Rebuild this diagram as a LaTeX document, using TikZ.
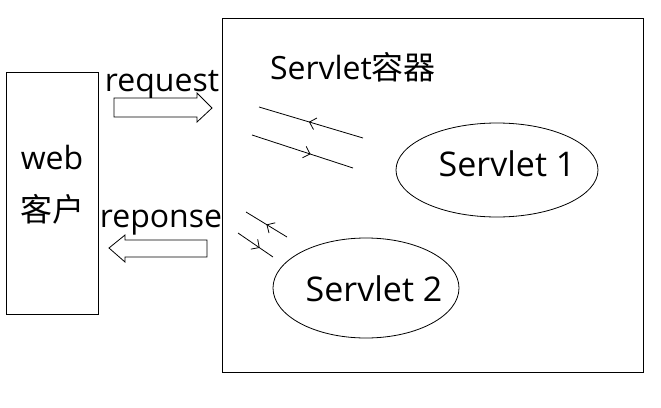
\documentclass[tikz,border=0pt]{standalone}
\usepackage{fontspec}
\setmainfont{Open Sans}
\newfontfamily\cjk{Noto Sans CJK SC}
\usetikzlibrary{arrows.meta,decorations.markings,shapes.geometric}
\tikzset{
  box/.style={draw=black,line width=1pt},
  lbl/.style={inner sep=0pt,anchor=base,font=\fontsize{32}{34}\selectfont},
  flow/.style={draw=black,line width=0.8pt,postaction={decorate},
    decoration={markings,mark=at position #1 with {\arrow{Straight Barb[length=6pt,width=12pt]}}}},
  backflow/.style={draw=black,line width=0.8pt,postaction={decorate},
    decoration={markings,mark=at position #1 with {\arrowreversed{Straight Barb[length=6pt,width=12pt]}}}},
  blockarrow/.style={draw=black,line width=0.8pt,fill=white},
  oval/.style={draw=black,line width=0.8pt,ellipse}
}
\begin{document}
\begin{tikzpicture}[x=1pt,y=-1pt]
\useasboundingbox (0,0) rectangle (661,407);
% client box
\node[box,minimum width=92pt,minimum height=242pt,inner sep=0pt] (client) at (52,193) {};
\node[lbl] (web) at (52,169) {web};
\node[lbl] (kehu) at (52,221) {\cjk 客户};
% container
\node[box,minimum width=421pt,minimum height=354pt,inner sep=0pt] (cont) at (432.5,195) {};
\node[lbl] (conttitle) at (353,79) {Servlet\cjk 容器};
% request arrow
\node[lbl] (req) at (162,91) {request};
\draw[blockarrow] (114,98) -- (197,98) -- (197,93) -- (212,108) -- (197,122) -- (197,117) -- (114,117) -- cycle;
% response arrow
\node[lbl] (resp) at (161,227) {reponse};
\draw[blockarrow] (207,240) -- (125,240) -- (125,235) -- (109,248) -- (125,262) -- (125,257) -- (207,257) -- cycle;
% servlets
\node[oval,minimum width=202pt,minimum height=94pt] (s1) at (497,170) {};
\node[lbl,font=\fontsize{34}{36}\selectfont] (s1t) at (507,176) {Servlet 1};
\node[oval,minimum width=186pt,minimum height=100pt] (s2) at (366,288) {};
\node[lbl,font=\fontsize{34}{36}\selectfont] (s2t) at (374,301) {Servlet 2};
% flow lines
\coordinate (a1) at (259,107); \coordinate (a2) at (363,138);
\coordinate (b1) at (252,135); \coordinate (b2) at (353,168);
\coordinate (c1) at (246,212); \coordinate (c2) at (287,237);
\coordinate (d1) at (238,233); \coordinate (d2) at (273,257);
\draw[backflow=0.48] (a1) -- (a2);
\draw[flow=0.58] (b1) -- (b2);
\draw[backflow=0.5] (c1) -- (c2);
\draw[flow=0.62] (d1) -- (d2);
\end{tikzpicture}
\end{document}
